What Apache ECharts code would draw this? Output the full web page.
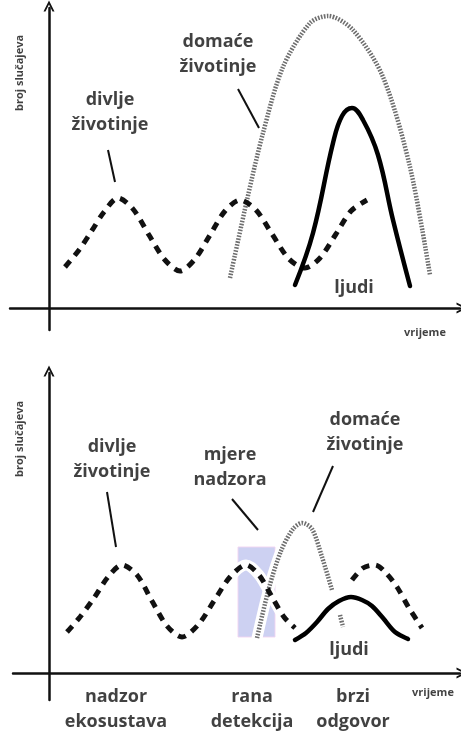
<!DOCTYPE html>
<html>
<head>
<meta charset="utf-8">
<script src="https://cdn.jsdelivr.net/npm/echarts@6/dist/echarts.min.js"></script>
<style>html,body{margin:0;padding:0;background:#fff}#c{width:461px;height:733px}</style>
</head>
<body>
<div id="c"></div>
<script>
// ---- data (x = time units, y = number of cases, arbitrary units) ----
// top panel
const topWild = [[1.6,4.1],[3.0,5.8],[4.2,7.6],[5.5,9.6],[6.9,11.0],[8.4,9.9],[10.0,7.3],[11.6,4.8],[13.1,3.7],[14.6,4.9],[16.1,7.3],[17.6,9.7],[19.1,10.8],[20.7,9.8],[22.3,7.4],[24.0,4.9],[25.6,4.0],[27.1,5.0],[28.7,7.4],[30.2,9.7],[31.8,10.8]];
const topDomestic = [[18.1,3.0],[19.8,10.8],[21.4,17.5],[23.4,24.1],[26.1,28.5],[27.9,29.2],[30.4,27.8],[33.4,23.1],[36.1,14.1],[38.1,3.3]];
const topHuman = [[24.6,2.3],[26.4,7.5],[28.4,16.5],[29.3,19.2],[30.3,20.0],[31.4,18.8],[32.9,15.3],[34.4,8.8],[36.1,2.2]];
// bottom panel
const botWild = [[1.8,4.1],[3.1,5.6],[4.5,7.5],[5.9,9.6],[7.3,10.8],[8.8,9.8],[10.3,7.2],[11.8,4.7],[13.3,3.6],[14.9,4.8],[16.5,7.2],[18.1,9.6],[19.7,10.8],[21.0,9.8],[22.3,7.6],[23.5,5.6],[24.6,4.5],null,[30.3,9.3],[31.4,10.5],[32.6,10.8],[33.7,10.0],[34.8,8.6],[36.0,6.5],[37.3,4.5]];
const botDomestic = [[20.8,3.5],[22.0,8.5],[23.2,12.2],[24.4,14.4],[25.3,15.0],[26.3,14.4],[27.3,11.6],[28.3,8.3],null,[29.1,5.8],[29.4,4.6]];
const botHuman = [[24.6,3.3],[25.7,4.0],[26.8,5.1],[27.9,6.4],[29.0,7.2],[30.2,7.6],[31.3,7.3],[32.3,6.7],[33.4,5.5],[34.6,4.1],[35.9,3.4]];
const measureBox = [18.9, 22.6, 3.6, 12.6]; // x from, x to, y from, y to
// annotations
const topLabels = [['divlje\nživotinje',6.1,19.6],['domaće\nživotinje',16.9,25.4],['ljudi',30.5,2.0]];
const topSmall = [['vrijeme',37.6,-2.5]];
const topYName = [['broj slučajeva',-2.9,23.5]];
const topLeaders = [[[5.9,15.8],[6.6,12.6]],[[18.9,21.9],[21.0,18.0]]];
const botLabels = [['divlje\nživotinje',6.3,21.4],['mjere\nnadzora',18.1,20.6],['domaće\nživotinje',31.6,24.1],['ljudi',30.0,2.3],
  ['nadzor\nekosustava',6.7,-3.6],['rana\ndetekcija',20.3,-3.6],['brzi\nodgovor',30.4,-3.6]];
const botSmall = [['vrijeme',38.4,-2.0]];
const botYName = [['broj slučajeva',-2.9,23.4]];
const botLeaders = [[[5.8,18.1],[6.7,12.6]],[[18.3,17.4],[20.9,14.3]],[[28.4,20.7],[26.4,16.1]]];

// ---- chart ----
const FONT = '"Open Sans", "DejaVu Sans", sans-serif';
const arrow = 'path://M0,10 L5,0 L10,10 L8.2,10 L5,3.6 L1.8,10 Z';
function axisLine(){
  return {show:true, onZero:true, symbol:['none', arrow], symbolSize:[11,12], symbolOffset:[0,2],
    lineStyle:{color:'#111', width:2.5}};
}
function ax(gi, min, max){
  return {type:'value', gridIndex:gi, min:min, max:max, axisLine:axisLine(), axisTick:{show:false},
    axisLabel:{show:false}, splitLine:{show:false}};
}
function textSeries(gi, arr, size, lh, rot){
  return {type:'scatter', xAxisIndex:gi, yAxisIndex:gi, symbolSize:0, clip:false, silent:true, z:10,
    data: arr.map(a=>({name:a[0], value:[a[1],a[2]]})),
    label:{show:true, position:'inside', formatter:'{b}', color:'#111', fontFamily:FONT, fontWeight:'bold',
      fontSize:size, lineHeight:lh, align:'center', verticalAlign:'middle', rotate:rot||0}};
}
function leaderSeries(gi, arr){
  return {type:'lines', coordinateSystem:'cartesian2d', xAxisIndex:gi, yAxisIndex:gi, silent:true, z:5,
    lineStyle:{color:'#111', width:2, opacity:1, curveness:0},
    data: arr.map(c=>({coords:c}))};
}
function curve(gi, data, kind, z, sm){
  let ls;
  if (kind==='dash') ls = {color:'#111', width:5, type:[8,7], cap:'butt'};
  else if (kind==='dot') ls = {color:'#6e6e6e', width:4.5, type:[1.6,1.4], cap:'butt'};
  else if (kind==='halo') ls = {color:'#fff', width:11, cap:'round'};
  else ls = {color:'#000', width:4.5, cap:'round'};
  return {type:'line', xAxisIndex:gi, yAxisIndex:gi, data:data, smooth:sm||0.3, showSymbol:false, symbol:'none',
    connectNulls:false, lineStyle:ls, z:z, silent:true, clip:false};
}

const chart = echarts.init(document.getElementById('c'), null, {renderer:'canvas'});
chart.setOption({
  animation:false,
  backgroundColor:'#fff',
  grid:[{left:10, top:8, width:450, height:322}, {left:13, top:373, width:447, height:327}],
  xAxis:[ax(0,-3.9,41.1), ax(1,-3.6,41.1)],
  yAxis:[ax(0,-2.2,30), ax(1,-2.7,30)],
  series:[
    curve(0, topWild, 'dash', 3),
    curve(0, topDomestic, 'dot', 2),
    curve(0, topHuman, 'solid', 4, 0.4),
    leaderSeries(0, topLeaders),
    textSeries(0, topLabels, 18, 25),
    textSeries(0, topSmall, 11, 13),
    textSeries(0, topYName, 11, 13, 90),
    {type:'line', xAxisIndex:1, yAxisIndex:1, data:[], z:1, silent:true,
      markArea:{silent:true, itemStyle:{color:'#c8ccf1', opacity:0.9, borderColor:'#f2d4f2', borderWidth:1},
        data:[[{coord:[measureBox[0], measureBox[3]]},{coord:[measureBox[1], measureBox[2]]}]]}},
    curve(1, botWild, 'halo', 1.5),
    curve(1, botDomestic, 'halo', 1.5),
    curve(1, botWild, 'dash', 3),
    curve(1, botDomestic, 'dot', 2),
    curve(1, botHuman, 'solid', 4, 0.3),
    leaderSeries(1, botLeaders),
    textSeries(1, botLabels, 18, 25),
    textSeries(1, botSmall, 11, 13),
    textSeries(1, botYName, 11, 13, 90)
  ]
});
</script>
</body>
</html>
